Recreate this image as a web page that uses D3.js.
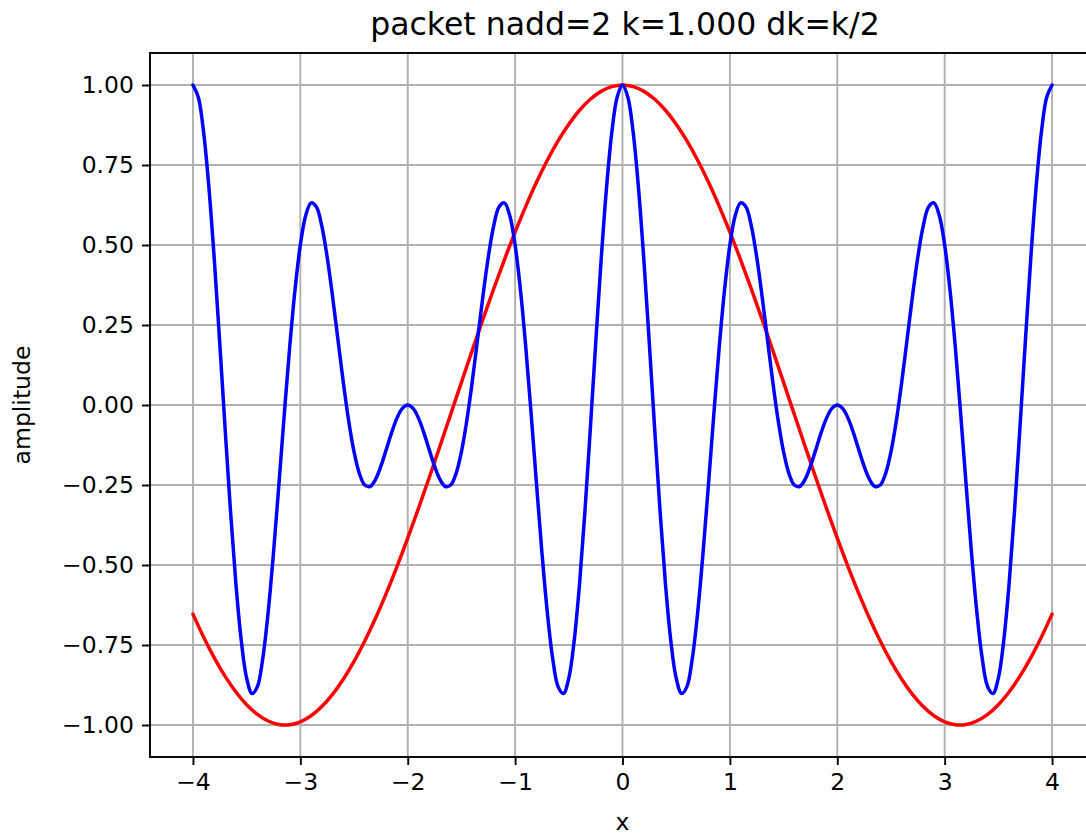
<!DOCTYPE html>
<html>
<head>
<meta charset="utf-8">
<script src="https://cdn.jsdelivr.net/npm/d3@7"></script>
<style>
  body { margin: 0; background: #fff; }
  svg { display: block; font-family: "DejaVu Sans", sans-serif; }
</style>
</head>
<body>
<svg id="chart" width="1086" height="835"></svg>
<script>
// ---- data ----
const titleText = "packet nadd=2 k=1.000 dk=k/2";
const xLabel = "x";
const yLabel = "amplitude";
const xTicks = [-4, -3, -2, -1, 0, 1, 2, 3, 4];
const yTicks = [-1.0, -0.75, -0.5, -0.25, 0.0, 0.25, 0.5, 0.75, 1.0];

// blue packet, x from -4 to 4 step 0.05
const blueX0 = -4, blueStep = 0.05;
const blueY = [
 1.0000, 0.9618, 0.8500, 0.6741, 0.4484, 0.1913, -0.0763, -0.3331, -0.5590, -0.7368,
 -0.8536, -0.9018, -0.8800, -0.7924, -0.6483, -0.4619, -0.2500, -0.0308, 0.1775, 0.3588,
 0.5000, 0.5922, 0.6315, 0.6186, 0.5590, 0.4619, 0.3393, 0.2046, 0.0710, -0.0492,
 -0.1464, -0.2143, -0.2500, -0.2547, -0.2327, -0.1913, -0.1394, -0.0863, -0.0410, -0.0107,
 0.0000,
 -0.0107, -0.0410, -0.0863, -0.1394, -0.1913, -0.2327, -0.2547, -0.2500, -0.2143, -0.1464,
 -0.0492, 0.0710, 0.2046, 0.3393, 0.4619, 0.5590, 0.6186, 0.6315, 0.5922, 0.5000,
 0.3588, 0.1775, -0.0308, -0.2500, -0.4619, -0.6483, -0.7924, -0.8800, -0.9018, -0.8536,
 -0.7368, -0.5590, -0.3331, -0.0763, 0.1913, 0.4484, 0.6741, 0.8500, 0.9618, 1.0000,
 0.9618, 0.8500, 0.6741, 0.4484, 0.1913, -0.0763, -0.3331, -0.5590, -0.7368,
 -0.8536, -0.9018, -0.8800, -0.7924, -0.6483, -0.4619, -0.2500, -0.0308, 0.1775, 0.3588,
 0.5000, 0.5922, 0.6315, 0.6186, 0.5590, 0.4619, 0.3393, 0.2046, 0.0710, -0.0492,
 -0.1464, -0.2143, -0.2500, -0.2547, -0.2327, -0.1913, -0.1394, -0.0863, -0.0410, -0.0107,
 0.0000,
 -0.0107, -0.0410, -0.0863, -0.1394, -0.1913, -0.2327, -0.2547, -0.2500, -0.2143, -0.1464,
 -0.0492, 0.0710, 0.2046, 0.3393, 0.4619, 0.5590, 0.6186, 0.6315, 0.5922, 0.5000,
 0.3588, 0.1775, -0.0308, -0.2500, -0.4619, -0.6483, -0.7924, -0.8800, -0.9018, -0.8536,
 -0.7368, -0.5590, -0.3331, -0.0763, 0.1913, 0.4484, 0.6741, 0.8500, 0.9618, 1.0000
];

// red carrier, x from -4 to 4 step 0.1
const redX0 = -4, redStep = 0.1;
const redY = [
 -0.6536, -0.7259, -0.7910, -0.8481, -0.8968, -0.9365, -0.9668, -0.9875, -0.9983, -0.9991,
 -0.9900, -0.9710, -0.9422, -0.9041, -0.8569, -0.8011, -0.7374, -0.6663, -0.5885, -0.5048,
 -0.4161, -0.3233, -0.2272, -0.1288, -0.0292, 0.0707, 0.1700, 0.2675, 0.3624, 0.4536,
 0.5403, 0.6216, 0.6967, 0.7648, 0.8253, 0.8776, 0.9211, 0.9553, 0.9801, 0.9950,
 1.0000,
 0.9950, 0.9801, 0.9553, 0.9211, 0.8776, 0.8253, 0.7648, 0.6967, 0.6216, 0.5403,
 0.4536, 0.3624, 0.2675, 0.1700, 0.0707, -0.0292, -0.1288, -0.2272, -0.3233, -0.4161,
 -0.5048, -0.5885, -0.6663, -0.7374, -0.8011, -0.8569, -0.9041, -0.9422, -0.9710, -0.9900,
 -0.9991, -0.9983, -0.9875, -0.9668, -0.9365, -0.8968, -0.8481, -0.7910, -0.7259, -0.6536
];

(function () {
// ---- layout ----
const svg = d3.select("#chart");
const pL = 150, pR = 1095, pT = 53, pB = 757;
const x = d3.scaleLinear().domain([-4.4, 4.4]).range([pL, pR]);
const y = d3.scaleLinear().domain([-1.1, 1.1]).range([pB, pT]);
const fs = 23.5;

// grid
const grid = svg.append("g");
grid.selectAll("line.gx").data(xTicks).join("line").attr("class", "gx")
  .attr("x1", d => x(d)).attr("x2", d => x(d))
  .attr("y1", pT).attr("y2", pB)
  .attr("stroke", "#b0b0b0").attr("stroke-width", 1.9);
grid.selectAll("line.gy").data(yTicks).join("line").attr("class", "gy")
  .attr("x1", pL).attr("x2", pR)
  .attr("y1", d => y(d)).attr("y2", d => y(d))
  .attr("stroke", "#b0b0b0").attr("stroke-width", 1.9);

// curves
svg.append("clipPath").attr("id", "clip").append("rect")
  .attr("x", pL).attr("y", pT).attr("width", pR - pL).attr("height", pB - pT);
const plot = svg.append("g").attr("clip-path", "url(#clip)");

const redPts = redY.map((v, i) => [redX0 + i * redStep, v]);
const bluePts = blueY.map((v, i) => [blueX0 + i * blueStep, v]);
const line = d3.line().x(d => x(d[0])).y(d => y(d[1])).curve(d3.curveCatmullRom.alpha(0.5));

plot.append("path").attr("d", line(redPts)).attr("fill", "none")
  .attr("stroke", "#ff0000").attr("stroke-width", 3.5).attr("stroke-linejoin", "round")
  .attr("stroke-linecap", "round");
plot.append("path").attr("d", line(bluePts)).attr("fill", "none")
  .attr("stroke", "#0000ff").attr("stroke-width", 3.5).attr("stroke-linejoin", "round")
  .attr("stroke-linecap", "round");

// axes
const fmtMinus = s => s.replace("-", "\u2212");
const xAxis = d3.axisBottom(x).tickValues(xTicks).tickSize(8).tickPadding(8)
  .tickFormat(d => fmtMinus(d3.format("d")(d)));
const yAxis = d3.axisLeft(y).tickValues(yTicks).tickSize(8).tickPadding(8)
  .tickFormat(d => fmtMinus(d3.format(".2f")(d)));

const gx = svg.append("g").attr("transform", `translate(0,${pB})`).call(xAxis);
const gy = svg.append("g").attr("transform", `translate(${pL},0)`).call(yAxis);
[gx, gy].forEach(g => {
  g.select(".domain").remove();
  g.selectAll(".tick line").attr("stroke", "#000").attr("stroke-width", 1.9);
  g.selectAll(".tick text").attr("fill", "#000").style("font-size", fs + "px")
    .style("font-family", "'DejaVu Sans', sans-serif");
});

// frame
svg.append("rect").attr("x", pL).attr("y", pT)
  .attr("width", pR - pL).attr("height", pB - pT)
  .attr("fill", "none").attr("stroke", "#000").attr("stroke-width", 1.9);

// labels
svg.append("text").attr("x", 625).attr("y", 35)
  .attr("text-anchor", "middle").style("font-size", "31.5px").text(titleText);
svg.append("text").attr("x", (pL + pR) / 2).attr("y", 830)
  .attr("text-anchor", "middle").style("font-size", fs + "px").text(xLabel);
svg.append("text").attr("transform", `translate(30,${(pT + pB) / 2}) rotate(-90)`)
  .attr("text-anchor", "middle").style("font-size", fs + "px").text(yLabel);
})();
</script>
</body>
</html>
